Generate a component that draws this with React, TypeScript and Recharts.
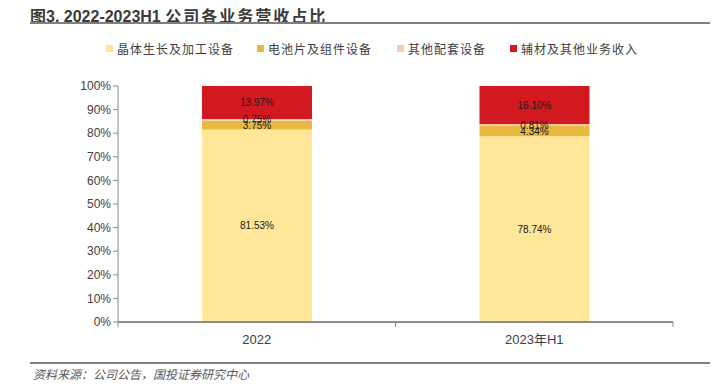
import React from "react";
import { BarChart, Bar, XAxis, YAxis, LabelList } from "recharts";

const categories = ["2022", "2023年H1"];
const crystal = [81.53, 78.74];
const cell = [3.75, 4.34];
const accessory = [0.75, 0.81];
const other = [13.97, 16.1];
const seriesNames = ["晶体生长及加工设备", "电池片及组件设备", "其他配套设备", "辅材及其他业务收入"];
const seriesColors = ["#FFE699", "#E9B840", "#F8CBAD", "#D2191F"];
const yTicks = [0, 10, 20, 30, 40, 50, 60, 70, 80, 90, 100];
const xTicks = [-0.5, 0, 0.5, 1, 1.5];

const data = categories.map((c, i) => ({
  name: c,
  idx: i,
  s0: crystal[i],
  s1: cell[i],
  s2: accessory[i],
  s3: other[i],
}));

const FONT = "'Liberation Sans', Arial, 'Noto Sans CJK SC', sans-serif";
const CJK = "'Noto Sans CJK SC', sans-serif";
const legendX = [106, 257, 397, 510];

function XTick(props: any) {
  const { x, y, payload } = props;
  const v = payload.value;
  if (Number.isInteger(v)) {
    return (
      <text x={x} y={y + 22} textAnchor="middle" fill="#404040" fontSize={13} fontFamily={FONT}>
        {categories[v]}
      </text>
    );
  }
  return <line x1={x} x2={x} y1={y} y2={y + 5} stroke="#8c8c8c" strokeWidth={1} />;
}

export default function App() {
  return (
    <div style={{ position: "absolute", left: 0, top: 0, width: 725, height: 391, background: "#fff", fontFamily: FONT }}>
      <div style={{ position: "absolute", left: 30, top: 3, fontSize: 16, fontWeight: "bold", color: "#3a3a3a", fontFamily: FONT, whiteSpace: "nowrap" }}>
        图3. 2022-2023H1 <span style={{ fontFamily: CJK, letterSpacing: 2 }}>公司各业务营收占比</span>
      </div>
      <div style={{ position: "absolute", left: 30, top: 22, width: 680, height: 2, background: "#7f7f7f" }} />
      {seriesNames.map((n, i) => (
        <div key={n} style={{ position: "absolute", left: legendX[i], top: 40, display: "flex", alignItems: "center", whiteSpace: "nowrap" }}>
          <div style={{ width: 7, height: 7, background: seriesColors[i], marginRight: 4 }} />
          <span style={{ fontFamily: CJK, fontSize: 12, letterSpacing: 1, color: "#404040" }}>{n}</span>
        </div>
      ))}
      <div style={{ position: "absolute", left: 0, top: 0 }}>
        <BarChart width={725} height={391} data={data} margin={{ top: 86, right: 52, bottom: 39, left: 58 }}>
          <XAxis
            type="number"
            dataKey="idx"
            domain={[-0.5, 1.5]}
            ticks={xTicks}
            interval={0}
            tickSize={0}
            tickMargin={0}
            tickLine={false}
            tick={<XTick />}
            axisLine={{ stroke: "#8c8c8c", strokeWidth: 2 }}
            allowDataOverflow
          />
          <YAxis
            domain={[0, 100]}
            ticks={yTicks}
            width={60}
            tickFormatter={(v) => `${v}%`}
            tick={{ fill: "#404040", fontSize: 12, fontFamily: FONT }}
            tickSize={5}
            tickLine={{ stroke: "#8c8c8c" }}
            axisLine={{ stroke: "#8c8c8c", strokeWidth: 1 }}
          />
          {["s0", "s1", "s2", "s3"].map((k, i) => (
            <Bar key={k} dataKey={k} stackId="a" fill={seriesColors[i]} barSize={110} isAnimationActive={false}>
              <LabelList
                dataKey={k}
                position="center"
                formatter={(v: number) => `${v.toFixed(2)}%`}
                style={{ fill: "#1a1a1a", fontSize: 10, fontFamily: FONT }}
              />
            </Bar>
          ))}
        </BarChart>
      </div>
      <div style={{ position: "absolute", left: 30, top: 362, width: 680, height: 1.5, background: "#7f7f7f" }} />
      <div style={{ position: "absolute", left: 33, top: 365, fontSize: 12, fontStyle: "italic", color: "#595959", fontFamily: CJK, whiteSpace: "nowrap" }}>
        资料来源：公司公告，国投证券研究中心
      </div>
    </div>
  );
}
